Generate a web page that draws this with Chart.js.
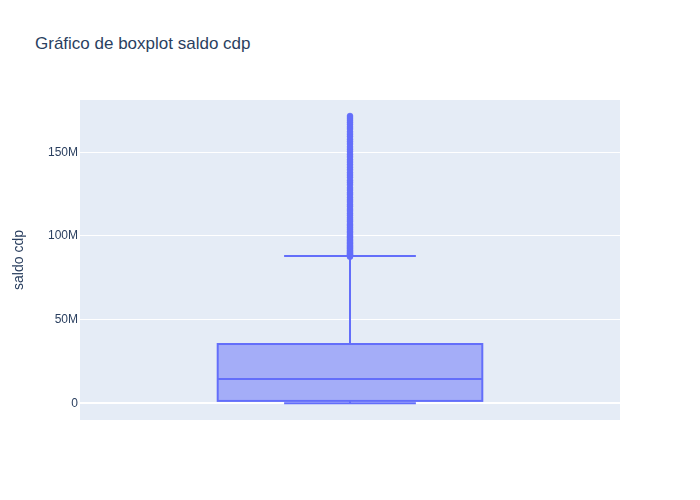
<!DOCTYPE html>
<html>
<head>
<meta charset="utf-8">
<script src="https://cdn.jsdelivr.net/npm/chart.js@4/dist/chart.umd.min.js"></script>
<style>
  html, body { margin: 0; padding: 0; background: #fff; }
  #wrap { position: relative; width: 700px; height: 500px; }
  #title { position: absolute; left: 35px; top: 34px; font-family: "Liberation Sans", Arial, sans-serif; font-size: 17px; color: #2a3f5f; white-space: nowrap; }
  canvas { position: absolute; left: 0; top: 0; }
</style>
</head>
<body>
<div id="wrap">
  <div id="title">Gráfico de boxplot saldo cdp</div>
  <canvas id="c" width="700" height="500"></canvas>
</div>
<script>
// Box statistics (values in units of 1)
const seriesName = 'saldo cdp';
const lowerFence = [0];
const q1 = [1.4e6];
const median = [14.5e6];
const q3 = [35.4e6];
const upperFence = [88.0e6];
// Outliers (millions)
const outliersM = [87.6, 88.1, 88.5, 89.0, 89.6, 90.2, 90.9, 91.5, 92.3, 93.0, 93.8, 94.5, 95.4, 96.1, 97.0, 97.8, 98.9, 99.7, 100.6, 101.8, 102.7, 103.9, 105.0, 106.2, 107.1, 108.5, 109.6, 110.8, 112.3, 113.5, 114.9, 116.0, 117.6, 118.8, 120.3, 121.5, 122.9, 124.6, 125.8, 127.4, 128.7, 130.5, 131.9, 133.2, 135.0, 136.4, 137.8, 139.5, 141.0, 142.6, 144.1, 145.5, 147.2, 148.6, 150.3, 151.8, 153.2, 154.9, 156.3, 157.7, 159.4, 160.8, 162.2, 163.9, 165.1, 166.6, 167.9, 169.2, 170.4, 171.6];
const yTickValues = [0, 50e6, 100e6, 150e6];
const yTickLabels = ['0', '50M', '100M', '150M'];

const LINE = '#636efa';
const FILL = 'rgba(99,110,250,0.5)';
const BOX_HALF = 0.245, CAP_HALF = 0.122;

const boxPlugin = {
  id: 'boxDraw',
  beforeDatasetsDraw(chart) {
    const ctx = chart.ctx, xs = chart.scales.x, ys = chart.scales.y;
    const xc = xs.getPixelForValue(0);
    const bl = xs.getPixelForValue(-BOX_HALF), br = xs.getPixelForValue(BOX_HALF);
    const cl = xs.getPixelForValue(-CAP_HALF), cr = xs.getPixelForValue(CAP_HALF);
    const pQ1 = ys.getPixelForValue(q1[0]), pQ3 = ys.getPixelForValue(q3[0]);
    const pMed = ys.getPixelForValue(median[0]);
    const pLo = ys.getPixelForValue(lowerFence[0]), pHi = ys.getPixelForValue(upperFence[0]);
    ctx.save();
    ctx.strokeStyle = LINE; ctx.lineWidth = 2;
    // whiskers
    ctx.beginPath();
    ctx.moveTo(xc, pQ3); ctx.lineTo(xc, pHi);
    ctx.moveTo(cl, pHi); ctx.lineTo(cr, pHi);
    ctx.moveTo(xc, pQ1); ctx.lineTo(xc, pLo);
    ctx.moveTo(cl, pLo); ctx.lineTo(cr, pLo);
    ctx.stroke();
    // box
    ctx.fillStyle = FILL;
    ctx.fillRect(bl, pQ3, br - bl, pQ1 - pQ3);
    ctx.strokeRect(bl, pQ3, br - bl, pQ1 - pQ3);
    // median
    ctx.beginPath();
    ctx.moveTo(bl, pMed); ctx.lineTo(br, pMed);
    ctx.stroke();
    ctx.restore();
  }
};

new Chart(document.getElementById('c'), {
  type: 'scatter',
  data: {
    datasets: [{
      label: seriesName,
      data: outliersM.map(v => ({ x: 0, y: v * 1e6 })),
      backgroundColor: LINE,
      borderColor: 'rgba(99,110,250,0.45)',
      borderWidth: 1,
      pointRadius: 3,
      pointHoverRadius: 3
    }]
  },
  options: {
    responsive: false,
    animation: false,
    devicePixelRatio: 1,
    layout: { padding: { top: 100, bottom: 80, right: 80, left: 0 } },
    plugins: {
      legend: { display: false },
      tooltip: { enabled: false }
    },
    scales: {
      x: { type: 'linear', min: -0.5, max: 0.5, display: false },
      y: {
        min: -10e6, max: 181.2e6,
        afterBuildTicks(axis) { axis.ticks = yTickValues.map(v => ({ value: v })); },
        afterFit(axis) { axis.width = 80; },
        ticks: {
          color: '#2a3f5f',
          font: { family: '"Liberation Sans", Arial, sans-serif', size: 12 },
          padding: 2,
          callback(v) { const i = yTickValues.indexOf(v); return i >= 0 ? yTickLabels[i] : ''; }
        },
        grid: {
          color: '#ffffff',
          lineWidth: ctx => (ctx.tick && ctx.tick.value === 0 ? 2 : 1),
          drawTicks: false
        },
        border: { display: false },
        title: {
          display: true, text: 'saldo cdp', color: '#2a3f5f',
          font: { family: '"Liberation Sans", Arial, sans-serif', size: 14 },
          padding: { top: 11, bottom: 0 }
        }
      }
    }
  },
  plugins: [{
    id: 'bg',
    beforeDraw(chart) {
      const a = chart.chartArea, ctx = chart.ctx;
      ctx.save(); ctx.fillStyle = '#e5ecf6';
      ctx.fillRect(a.left, a.top, a.right - a.left, a.bottom - a.top);
      ctx.restore();
    }
  }, boxPlugin]
});
</script>
</body>
</html>
